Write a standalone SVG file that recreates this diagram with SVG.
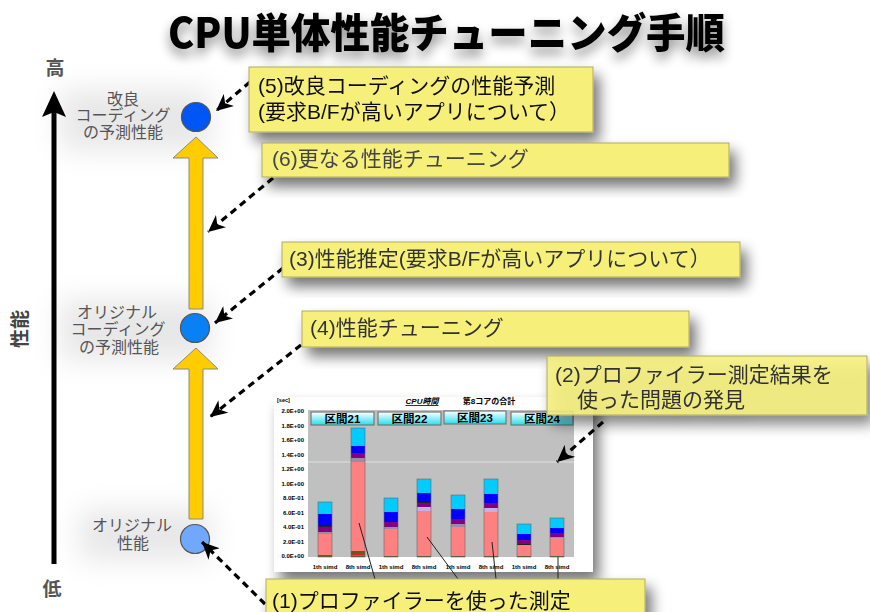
<svg xmlns="http://www.w3.org/2000/svg" width="870" height="612" viewBox="0 0 870 612">
<defs>
<style>
.jp{font-family:"Liberation Sans","Noto Sans CJK JP",sans-serif}
.call{fill:#F6F07A;stroke:#B0AA60;stroke-width:1}
.ct{font-size:21px;fill:#2a2a2a}
.lab{font-size:16px;fill:#555;text-anchor:middle}
.dash{fill:none;stroke:#000;stroke-width:3.2;stroke-dasharray:7 5;marker-end:url(#ah)}
.yarrow{fill:#FFCC00;stroke:#8a8a8a;stroke-width:1}
.node{stroke:#555;stroke-width:1.2}
.yl{font-size:6px;font-weight:bold;text-anchor:end;fill:#000}
.xl{font-size:6px;font-weight:bold;text-anchor:middle;fill:#000}
.hdr{fill:url(#hg);stroke:#777;stroke-width:1.2}
.ht{font-size:11.5px;font-weight:bold;text-anchor:middle;fill:#000}
.lead{stroke:#222;stroke-width:1;fill:none}
.cy{fill:#00CCFF}.bl{fill:#0000FF}.pu{fill:#800080}.pk{fill:#FF8080}.gy{fill:#9C8CAC}.lv{fill:#C8B0E0}.dk{fill:#222}.og{fill:#5A6020}.rd{fill:#E02020}
.bar{stroke:#666;stroke-width:0.6;fill:none}
</style>
<marker id="ah" markerUnits="userSpaceOnUse" markerWidth="18" markerHeight="16" refX="17" refY="8" orient="auto">
<path d="M0,0 L17,8 L0,16 L5,8 z" fill="#000"/>
</marker>
<linearGradient id="hg" x1="0" y1="0" x2="0" y2="1">
<stop offset="0" stop-color="#FFFFFF"/>
<stop offset="1" stop-color="#22E0F0"/>
</linearGradient>
<filter id="sh" x="-20%" y="-40%" width="150%" height="200%">
<feGaussianBlur in="SourceAlpha" stdDeviation="7"/>
<feOffset dx="6" dy="9" result="b"/>
<feComponentTransfer><feFuncA type="linear" slope="0.55"/></feComponentTransfer>
<feMerge><feMergeNode/><feMergeNode in="SourceGraphic"/></feMerge>
</filter>
<filter id="tsh" x="-10%" y="-50%" width="120%" height="220%">
<feGaussianBlur in="SourceAlpha" stdDeviation="6"/>
<feOffset dx="0" dy="7"/>
<feComponentTransfer><feFuncA type="linear" slope="0.45"/></feComponentTransfer>
<feMerge><feMergeNode/><feMergeNode in="SourceGraphic"/></feMerge>
</filter>
<filter id="soft" x="-30%" y="-30%" width="160%" height="160%">
<feGaussianBlur stdDeviation="14"/>
</filter>
</defs>
<rect width="870" height="612" fill="#fff"/>
<g opacity="0.35" filter="url(#soft)">
<rect x="60" y="90" width="150" height="60" fill="#bbb"/>
<rect x="60" y="300" width="150" height="60" fill="#bbb"/>
<rect x="80" y="510" width="130" height="50" fill="#bbb"/>
</g>

<g id="title" filter="url(#tsh)">
<text x="168" y="48" font-family="'Noto Sans CJK JP',sans-serif" font-weight="900" font-size="41" textLength="557" lengthAdjust="spacingAndGlyphs" fill="#000">CPU単体性能チューニング手順</text>
</g>

<g id="axis">
<rect x="51.5" y="112" width="5" height="452" fill="#000"/>
<path d="M54,91 L66,117 L54,112 L42,117 z" fill="#000"/>
<text x="55" y="75" class="jp" font-size="19" font-weight="bold" fill="#555" text-anchor="middle">高</text>
<text x="52" y="596" class="jp" font-size="19" font-weight="bold" fill="#555" text-anchor="middle">低</text>
<text transform="translate(27,329) rotate(-90)" class="jp" font-size="19" font-weight="bold" fill="#444" text-anchor="middle">性能</text>
</g>

<g id="arrows-yellow">
<path class="yarrow" d="M196,137 L218,158 L203,158 L203,309 L189,309 L189,158 L173,158 z"/>
<path class="yarrow" d="M196,348 L218,369 L203,369 L203,519 L189,519 L189,369 L173,369 z"/>
</g>

<g id="n-top">
<circle class="node" cx="196" cy="117" r="14.5" fill="#0055F5"/>
<text class="jp lab" x="123" y="105">改良</text>
<text class="jp lab" x="123" y="121">コーディング</text>
<text class="jp lab" x="123" y="138">の予測性能</text>
</g>
<g id="n-mid">
<circle class="node" cx="195" cy="328" r="14.5" fill="#0A80F5"/>
<text class="jp lab" x="117" y="318">オリジナル</text>
<text class="jp lab" x="118" y="335">コーディング</text>
<text class="jp lab" x="119" y="353">の予測性能</text>
</g>
<g id="n-bot">
<circle class="node" cx="195" cy="539" r="14.5" fill="#70A8FF"/>
<text class="jp lab" x="132" y="531">オリジナル</text>
<text class="jp lab" x="133" y="549">性能</text>
</g>

<g id="chart">
<rect x="274" y="397" width="319" height="175" fill="#fff" filter="url(#sh)"/>
<rect x="308" y="410" width="266" height="147" fill="#C0C0C0"/>
<line x1="308" y1="462" x2="574" y2="462" stroke="#E0E0E0" stroke-width="1"/>
<text x="277" y="402" font-family="'Liberation Sans',sans-serif" font-size="5.5" font-weight="bold">[sec]</text>
<text x="422" y="404" class="jp" font-size="8" font-weight="bold" font-style="italic" text-anchor="middle" text-decoration="underline">CPU時間</text>
<text x="489" y="404" class="jp" font-size="8" font-weight="bold" text-anchor="middle">第8コアの合計</text>
<g font-family="'Liberation Sans',sans-serif">
<text class="yl" x="304" y="413">2.0E+00</text>
<text class="yl" x="304" y="428">1.8E+00</text>
<text class="yl" x="304" y="442">1.6E+00</text>
<text class="yl" x="304" y="457">1.4E+00</text>
<text class="yl" x="304" y="471">1.2E+00</text>
<text class="yl" x="304" y="486">1.0E+00</text>
<text class="yl" x="304" y="500">8.0E-01</text>
<text class="yl" x="304" y="515">6.0E-01</text>
<text class="yl" x="304" y="529">4.0E-01</text>
<text class="yl" x="304" y="544">2.0E-01</text>
<text class="yl" x="304" y="558">0.0E+00</text>
<text class="xl" x="325" y="569">1th simd</text>
<text class="xl" x="358" y="569">8th simd</text>
<text class="xl" x="391" y="569">1th simd</text>
<text class="xl" x="424" y="569">8th simd</text>
<text class="xl" x="458" y="569">1th simd</text>
<text class="xl" x="491" y="569">8th simd</text>
<text class="xl" x="524" y="569">1th simd</text>
<text class="xl" x="557" y="569">8th simd</text>
</g>
<g>
<rect class="cy" x="318" y="502" width="14" height="12"/><rect class="bl" x="318" y="514" width="14" height="12"/><rect class="dk" x="318" y="526" width="14" height="1"/><rect class="pu" x="318" y="527" width="14" height="5"/><rect class="gy" x="318" y="532" width="14" height="2"/><rect class="pk" x="318" y="534" width="14" height="21"/><rect class="og" x="318" y="555" width="14" height="2"/><rect class="bar" x="318" y="502" width="14" height="55"/>
<rect class="cy" x="351" y="428" width="14" height="18"/><rect class="bl" x="351" y="446" width="14" height="7"/><rect class="pu" x="351" y="453" width="14" height="5"/><rect class="gy" x="351" y="458" width="14" height="4"/><rect class="pk" x="351" y="462" width="14" height="89"/><rect class="og" x="351" y="551" width="14" height="3"/><rect class="rd" x="351" y="554" width="14" height="1.5"/><rect class="og" x="351" y="555.5" width="14" height="1.5"/><rect class="bar" x="351" y="428" width="14" height="129"/>
<rect class="cy" x="384" y="498" width="14" height="14"/><rect class="bl" x="384" y="512" width="14" height="10"/><rect class="pu" x="384" y="522" width="14" height="5"/><rect class="gy" x="384" y="527" width="14" height="2"/><rect class="pk" x="384" y="529" width="14" height="27"/><rect class="og" x="384" y="556" width="14" height="1"/><rect class="bar" x="384" y="498" width="14" height="59"/>
<rect class="cy" x="417" y="479" width="14" height="14"/><rect class="bl" x="417" y="493" width="14" height="9"/><rect class="dk" x="417" y="502" width="14" height="1"/><rect class="pu" x="417" y="503" width="14" height="4"/><rect class="lv" x="417" y="507" width="14" height="4"/><rect class="pk" x="417" y="511" width="14" height="45"/><rect class="og" x="417" y="556" width="14" height="1"/><rect class="bar" x="417" y="479" width="14" height="78"/>
<rect class="cy" x="451" y="495" width="14" height="14"/><rect class="bl" x="451" y="509" width="14" height="10"/><rect class="pu" x="451" y="519" width="14" height="5"/><rect class="gy" x="451" y="524" width="14" height="3"/><rect class="pk" x="451" y="527" width="14" height="29"/><rect class="og" x="451" y="556" width="14" height="1"/><rect class="bar" x="451" y="495" width="14" height="62"/>
<rect class="cy" x="484" y="479" width="14" height="15"/><rect class="bl" x="484" y="494" width="14" height="9"/><rect class="pu" x="484" y="503" width="14" height="5"/><rect class="lv" x="484" y="508" width="14" height="4"/><rect class="pk" x="484" y="512" width="14" height="44"/><rect class="og" x="484" y="556" width="14" height="1"/><rect class="bar" x="484" y="479" width="14" height="78"/>
<rect class="cy" x="517" y="524" width="14" height="10"/><rect class="bl" x="517" y="534" width="14" height="6"/><rect class="pu" x="517" y="540" width="14" height="4"/><rect class="dk" x="517" y="544" width="14" height="1"/><rect class="pk" x="517" y="545" width="14" height="11"/><rect class="og" x="517" y="556" width="14" height="1"/><rect class="bar" x="517" y="524" width="14" height="33"/>
<rect class="cy" x="550" y="518" width="14" height="10"/><rect class="bl" x="550" y="528" width="14" height="5"/><rect class="pu" x="550" y="533" width="14" height="4"/><rect class="gy" x="550" y="537" width="14" height="1.5"/><rect class="pk" x="550" y="538.5" width="14" height="17.5"/><rect class="og" x="550" y="556" width="14" height="1"/><rect class="bar" x="550" y="518" width="14" height="39"/>
</g>
<rect class="hdr" x="311" y="412" width="63" height="13"/>
<rect class="hdr" x="378" y="412" width="63" height="13"/>
<rect class="hdr" x="444" y="411" width="62" height="13"/>
<rect class="hdr" x="511" y="412" width="62" height="13"/>
<g class="jp">
<text class="ht" x="342.5" y="423">区間21</text>
<text class="ht" x="409.5" y="423">区間22</text>
<text class="ht" x="475" y="422">区間23</text>
<text class="ht" x="542" y="423">区間24</text>
</g>
</g>

<g id="connectors">
<path class="dash" d="M250,82 L216,111"/>
<path class="dash" d="M273,178 L208,232"/>
<path class="dash" d="M283,268 L215,323"/>
<path class="dash" d="M301,345 L210,417"/>
<path class="dash" d="M603,422 L557,462"/>
<path class="dash" d="M265,604 L202,542"/>
<path class="lead" d="M359,523 L375,579"/>
<path class="lead" d="M427,537 L458,579"/>
<path class="lead" d="M492,542 L496,579"/>
<path class="lead" d="M558,557 L558,579"/>
</g>

<g id="c5" filter="url(#sh)">
<rect class="call" x="249" y="67" width="344" height="65"/>
<text class="jp ct" x="258" y="93" style="fill:#111">(5)改良コーディングの性能予測</text>
<text class="jp ct" x="258" y="119" style="fill:#111">(要求B/Fが高いアプリについて）</text>
</g>
<g id="c6" filter="url(#sh)">
<rect class="call" x="262" y="143" width="467" height="34"/>
<text class="jp ct" x="272" y="166" style="fill:#444">(6)更なる性能チューニング</text>
</g>
<g id="c3" filter="url(#sh)">
<rect class="call" x="282" y="242" width="458" height="35"/>
<text class="jp ct" x="289" y="266" style="fill:#333">(3)性能推定(要求B/Fが高いアプリについて）</text>
</g>
<g id="c4" filter="url(#sh)">
<rect class="call" x="302" y="311" width="387" height="36"/>
<text class="jp ct" x="310" y="335" style="fill:#333">(4)性能チューニング</text>
</g>
<g id="c2" filter="url(#sh)">
<rect class="call" x="547" y="356" width="320" height="59" fill-opacity="0.85"/>
<text class="jp ct" x="555" y="382" style="fill:#333">(2)プロファイラー測定結果を</text>
<text class="jp ct" x="577" y="407" style="fill:#333">使った問題の発見</text>
</g>
<g id="c1" filter="url(#sh)">
<rect class="call" x="266" y="579" width="379" height="40"/>
<text class="jp ct" x="272" y="608" style="fill:#111">(1)プロファイラーを使った測定</text>
</g>
</svg>
